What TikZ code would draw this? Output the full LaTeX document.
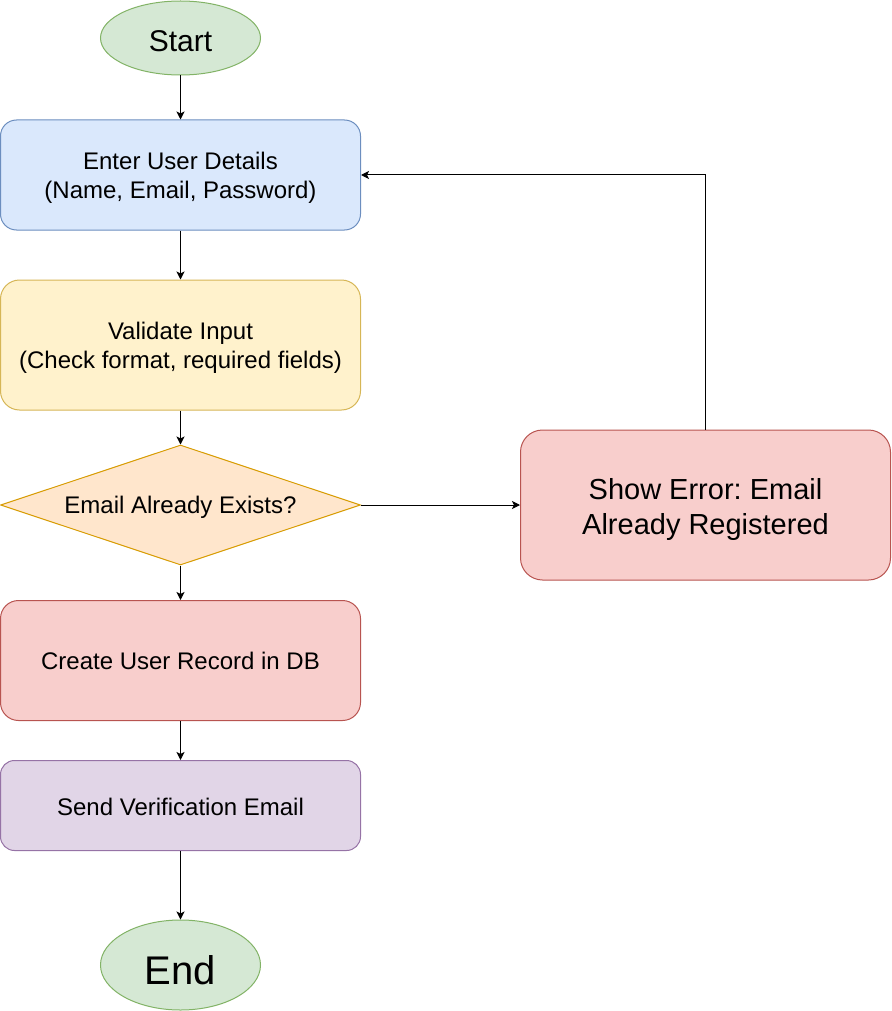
\documentclass[tikz,border=0pt]{standalone}
\usepackage{fontspec}
\setmainfont{Liberation Sans}
\usetikzlibrary{shapes.geometric,arrows.meta}
\definecolor{gfill}{HTML}{D5E8D4}\definecolor{gline}{HTML}{82B366}
\definecolor{bfill}{HTML}{DAE8FC}\definecolor{bline}{HTML}{6C8EBF}
\definecolor{yfill}{HTML}{FFF2CC}\definecolor{yline}{HTML}{D6B656}
\definecolor{ofill}{HTML}{FFE6CC}\definecolor{oline}{HTML}{D79B00}
\definecolor{rfill}{HTML}{F8CECC}\definecolor{rline}{HTML}{B85450}
\definecolor{pfill}{HTML}{E1D5E7}\definecolor{pline}{HTML}{9673A6}
\newcommand{\lowerby}[2]{\raisebox{-#1}[\height][\depth]{#2}}
\tikzset{
  base/.style={line width=1pt, inner sep=0pt, align=center, text=black,
    font=\frenchspacing\fontsize{24}{28.8}\selectfont},
  term/.style={base, ellipse, draw=gline, fill=gfill, minimum width=160pt, minimum height=74pt},
  procbox/.style={base, rectangle, minimum width=360pt},
  decbox/.style={base, diamond, draw=oline, fill=ofill, minimum width=360pt, minimum height=120pt, aspect=3},
  conn/.style={line width=1pt, draw=black, -{Stealth[length=8pt,width=8pt,inset=2pt]}},
}
\begin{document}
\frenchspacing
\begin{tikzpicture}[x=1pt,y=-1pt]
\useasboundingbox (0,0) rectangle (891,1011);
\node[term] (start) at (180.5,38) {};
\node[base, font=\fontsize{30}{36}\selectfont] (starttxt) at (180.5,41) {Start};
\node[procbox, draw=bline, fill=bfill, minimum height=110pt, rounded corners=16pt] (enter) at (180.5,175)
  {\lowerby{3pt}{Enter User Details}\\\lowerby{3pt}{(Name, Email, Password)}};
\node[procbox, draw=yline, fill=yfill, minimum height=130pt, rounded corners=19pt] (valid) at (180.5,345)
  {\lowerby{3pt}{Validate Input}\\\lowerby{3pt}{(Check format, required fields)}};
\node[decbox] (dia) at (180.5,505) {\lowerby{2pt}{Email Already Exists?}};
\node[base, rectangle, draw=rline, fill=rfill, minimum width=370pt, minimum height=150pt, rounded corners=22pt, font=\frenchspacing\fontsize{29}{35}\selectfont] (err) at (705.5,505)
  {\lowerby{4pt}{Show Error: Email}\\\lowerby{4pt}{Already Registered}};
\node[procbox, draw=rline, fill=rfill, minimum height=120pt, rounded corners=18pt] (create) at (180.5,660.5) {Create User Record in DB};
\node[procbox, draw=pline, fill=pfill, minimum height=90pt, rounded corners=14pt] (send) at (180.5,805.5) {\lowerby{1pt}{Send Verification Email}};
\node[term, minimum height=90pt] (end) at (180.5,965) {};
\node[base, font=\fontsize{40}{48}\selectfont] (endtxt) at (180.5,970) {End};
\draw[conn] (start) -- (enter);
\draw[conn] (enter) -- (valid);
\draw[conn] (valid) -- (dia);
\draw[conn] (dia) -- (create);
\draw[conn] (create) -- (send);
\draw[conn] (send) -- (end);
\draw[conn] (dia.east) -- (err.west);
\draw[conn] (err.north) |- (enter.east);
\end{tikzpicture}
\end{document}
